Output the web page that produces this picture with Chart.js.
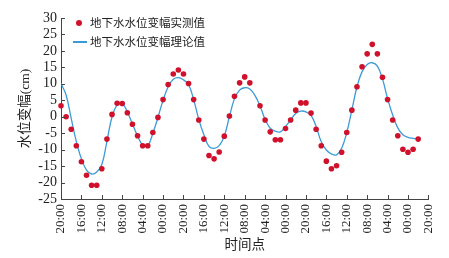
<!DOCTYPE html>
<html lang="zh">
<head>
<meta charset="utf-8">
<title>地下水水位变幅</title>
<script src="https://cdn.jsdelivr.net/npm/chart.js@4.4.1/dist/chart.umd.min.js"></script>
<style>
  html, body { margin: 0; padding: 0; background: #fff; }
  #wrap { position: relative; width: 449px; height: 258px; }
  #chart { position: absolute; left: 0; top: 0; }
  .leg { position: absolute; font: 11.5px "Liberation Serif", "Noto Sans CJK SC", serif; color: #222; line-height: 14px; white-space: nowrap; }
  .dot { position: absolute; width: 6px; height: 6px; border-radius: 50%; background: #d0112b; }
  .seg { position: absolute; width: 14px; height: 1.5px; background: #3c9bd6; }
</style>
</head>
<body>
<div id="wrap">
  <canvas id="chart" width="449" height="258"></canvas>
  <span class="dot" style="left:76px; top:20px;"></span>
  <span class="leg" style="left:90px; top:16px;">地下水水位变幅实测值</span>
  <span class="seg" style="left:73px; top:41px;"></span>
  <span class="leg" style="left:90px; top:35px;">地下水水位变幅理论值</span>
</div>
<script>
// 横轴刻度标签（每 4 小时一个，时间倒序）
const timeLabels = ['20:00', '16:00', '12:00', '08:00', '04:00', '00:00',
  '20:00', '16:00', '12:00', '08:00', '04:00', '00:00',
  '20:00', '16:00', '12:00', '08:00', '04:00', '00:00', '20:00'];

// 实测值 (cm)，逐小时，第 38 小时无点
const measured = [3.3, 0, -3.8, -8.8, -13.7, -17.8, -20.8, -20.8, -15.8, -6.8,
  0.7, 4.1, 4.0, 1.2, -2.3, -5.8, -8.8, -8.8, -4.8, -0.2,
  5.2, 9.8, 13.0, 14.2, 13.0, 10.1, 5.2, -1.0, -6.8, -11.8,
  -12.8, -10.7, -5.9, 0.2, 6.2, 10.3, 12.1, 10.3, null, 3.3,
  -1.0, -4.6, -7.0, -7.0, -3.6, -1.0, 2.0, 4.2, 4.2, 1.1,
  -3.8, -8.8, -13.5, -15.8, -14.9, -10.8, -4.8, 2.0, 9.1, 15.2,
  19.1, 22.0, 19.1, 12.0, 5.2, -1.0, -5.8, -9.9, -10.8, -9.9, -6.8];

// 理论值 (cm)，逐小时
const theory = [10.1, 6.6, -0.5, -7.5, -12.8, -16.2, -17.4, -16.8, -14.5, -7.5,
  0, 3.5, 4.0, 1.5, -2.2, -5.8, -8.6, -8.8, -5.0, -0.2,
  5.0, 9.1, 11.4, 11.9, 11.2, 9.8, 5.2, -0.8, -5.5, -9.0,
  -9.6, -8.8, -5.9, 0, 5.5, 8.1, 8.8, 8.4, 6.5, 3.3,
  -0.8, -3.5, -4.4, -4.6, -3.0, -1.0, 1.0, 1.7, 1.5, 0.4,
  -3.0, -7.6, -10.1, -11.3, -11.6, -9.6, -4.8, 2.0, 9.1, 13.7,
  15.9, 16.4, 15.4, 11.5, 5.5, 0.5, -3.4, -5.5, -6.3, -6.6, -6.8];

const axisColor = '#444';
const textColor = '#222';
const serif = '"Liberation Serif", "Noto Sans CJK SC", serif';

// 刻度线朝内画
const inwardTicks = {
  id: 'inwardTicks',
  afterDraw(chart) {
    const { ctx, chartArea, scales } = chart;
    ctx.save();
    ctx.strokeStyle = axisColor;
    ctx.lineWidth = 1;
    ctx.beginPath();
    scales.y.ticks.forEach(t => {
      const py = Math.round(scales.y.getPixelForValue(t.value)) + 0.5;
      ctx.moveTo(chartArea.left, py);
      ctx.lineTo(chartArea.left + 4, py);
    });
    scales.x.ticks.forEach(t => {
      const px = Math.round(scales.x.getPixelForValue(t.value)) + 0.5;
      ctx.moveTo(px, chartArea.bottom);
      ctx.lineTo(px, chartArea.bottom - 4);
    });
    ctx.stroke();
    ctx.restore();
  }
};

new Chart(document.getElementById('chart'), {
  type: 'scatter',
  data: {
    datasets: [{
      label: '地下水水位变幅实测值',
      data: measured.map((v, i) => ({ x: i, y: v })),
      backgroundColor: '#d0112b',
      borderColor: '#d0112b',
      pointRadius: 2.8,
      borderWidth: 0,
      clip: false,
      order: 0
    }, {
      type: 'line',
      label: '地下水水位变幅理论值',
      data: theory.map((v, i) => ({ x: i, y: v })),
      borderColor: '#3c9bd6',
      borderWidth: 1.3,
      pointRadius: 0,
      tension: 0.4,
      fill: false,
      order: 1
    }]
  },
  options: {
    responsive: false,
    animation: false,
    layout: { padding: { left: 16, right: 18, top: 18, bottom: 0 } },
    plugins: { legend: { display: false }, tooltip: { enabled: false } },
    scales: {
      x: {
        type: 'linear',
        min: 0,
        max: 72,
        grid: { display: false, drawTicks: false },
        border: { display: true, color: axisColor },
        ticks: {
          stepSize: 4,
          autoSkip: false,
          maxRotation: 90,
          minRotation: 90,
          padding: 5,
          color: textColor,
          font: { family: serif, size: 13 },
          callback: v => timeLabels[Math.round(v / 4)]
        },
        title: {
          display: true,
          text: '时间点',
          color: textColor,
          font: { family: serif, size: 13.5 },
          padding: { top: 0, bottom: 4 }
        },
        afterFit(s) { s.height = 59; }
      },
      y: {
        min: -25,
        max: 30,
        grid: { display: false, drawTicks: false },
        border: { display: true, color: axisColor },
        ticks: {
          stepSize: 5,
          autoSkip: false,
          padding: 4,
          color: textColor,
          font: { family: serif, size: 14 }
        },
        title: {
          display: true,
          text: '水位变幅(cm)',
          color: textColor,
          font: { family: serif, size: 13.5 },
          padding: { top: 1, bottom: 0 }
        },
        afterFit(s) { s.width = 45; }
      }
    }
  },
  plugins: [inwardTicks]
});
</script>
</body>
</html>
